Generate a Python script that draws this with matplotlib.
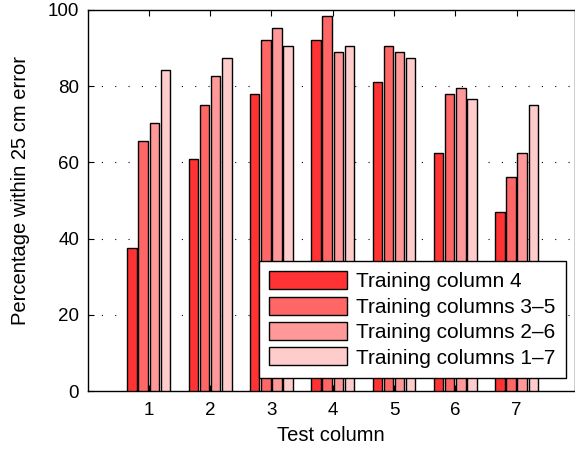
import matplotlib
matplotlib.use("Agg")
import matplotlib.pyplot as plt
import numpy as np

plt.rcParams['font.family'] = ['Liberation Sans', 'DejaVu Sans']

test_columns = [1, 2, 3, 4, 5, 6, 7]
series_labels = ["Training column 4", "Training columns 3\u20135",
                 "Training columns 2\u20136", "Training columns 1\u20137"]
col4 = [37.5, 60.9, 78.0, 92.1, 81.2, 62.5, 46.9]
col3_5 = [65.6, 75.0, 92.1, 98.4, 90.6, 78.0, 56.2]
col2_6 = [70.3, 82.8, 95.2, 89.1, 89.1, 79.6, 62.5]
col1_7 = [84.3, 87.5, 90.6, 90.6, 87.5, 76.6, 75.0]
colors = ["#FF3333", "#FF6666", "#FF9999", "#FFCCCC"]

fig = plt.figure(figsize=(5.75, 4.5), dpi=100)
ax = fig.add_axes([87.5/575, 59/450, 487.5/575, 381/450])

series = [col4, col3_5, col2_6, col1_7]
x = np.array(test_columns, dtype=float)
step = 0.182
width = 0.155
for i, (vals, c, lab) in enumerate(zip(series, colors, series_labels)):
    ax.bar(x + (i - 1.5) * step, vals, width=width, color=c,
           edgecolor='black', linewidth=1.0, label=lab, zorder=3)

ax.set_xlim(0, 487.5/61.3)
ax.set_ylim(0, 100)
ax.set_xticks(test_columns)
ax.set_yticks([0, 20, 40, 60, 80, 100])
ax.tick_params(direction='in', length=4, labelsize=13.5, top=True,
               right=False, width=0.8)
ax.tick_params(axis='x', pad=8)
ax.tick_params(axis='y', pad=6)
for yv in [20, 40, 60, 80]:
    ax.axhline(yv, color='black', linestyle=(0, (1, 11)), linewidth=0.8, zorder=1)
for s in ax.spines.values():
    s.set_linewidth(1.0)

ax.set_xlabel("Test column", fontsize=14.5, labelpad=5)
ax.set_ylabel("Percentage within 25 cm error", fontsize=14.5)
ax.yaxis.set_label_coords(-0.118, 0.525)

leg = ax.legend(loc='lower right', bbox_to_anchor=(566/575, (450-378)/450),
                bbox_transform=fig.transFigure, fontsize=15,
                handlelength=3.75, handleheight=0.96, handletextpad=0.43,
                labelspacing=0.25, borderpad=0.5, borderaxespad=0,
                fancybox=False, framealpha=1, edgecolor='black')
leg.get_frame().set_linewidth(1.0)
leg.set_zorder(5)

fig.savefig("out.png", dpi=100)
